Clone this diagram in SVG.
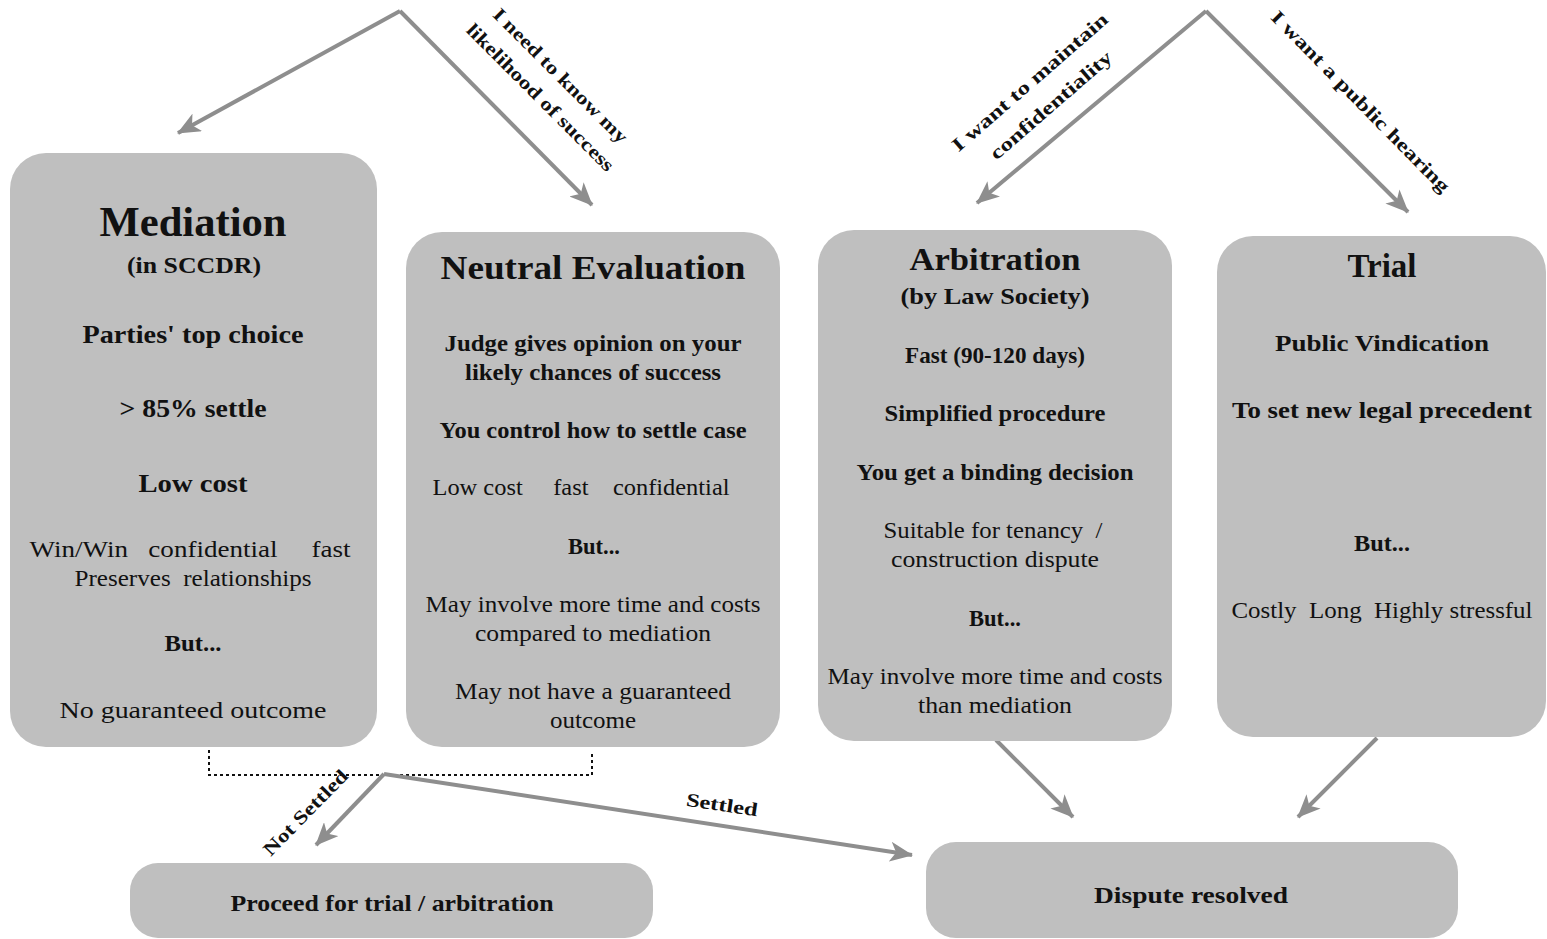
<svg xmlns="http://www.w3.org/2000/svg" width="1547" height="939" viewBox="0 0 1547 939">
<defs>
<style>
.box{fill:#bfbfbf;}
.t{font-family:"Liberation Serif","Times New Roman",serif;fill:#111;text-anchor:middle;white-space:pre;}
.b{font-weight:bold;}
.conn{stroke:#8e8e8e;stroke-width:4;fill:none;}
.lbl{font-family:"Liberation Serif","Times New Roman",serif;font-weight:bold;font-size:19px;fill:#111;text-anchor:middle;}
</style>
<marker id="ah" markerUnits="userSpaceOnUse" markerWidth="24" markerHeight="20" refX="22" refY="10" orient="auto">
<path d="M0,0 L23,10 L0,20 L6,10 z" fill="#8e8e8e"/>
</marker>
</defs>
<rect width="1547" height="939" fill="#ffffff"/>

<g id="connectors">
<path class="conn" d="M400,11 L178,133" marker-end="url(#ah)"/>
<path class="conn" d="M400,11 L592,205" marker-end="url(#ah)"/>
<path class="conn" d="M1206,11 L977,203" marker-end="url(#ah)"/>
<path class="conn" d="M1206,11 L1408,212" marker-end="url(#ah)"/>
<path class="conn" d="M996,740 L1073,817" marker-end="url(#ah)"/>
<path class="conn" d="M1377,738 L1298,817" marker-end="url(#ah)"/>
<path d="M209,750 L209,775 L592,775 L592,752" fill="none" stroke="#111" stroke-width="2" stroke-dasharray="3,3"/>
<path class="conn" d="M384,774 L316,845" marker-end="url(#ah)"/>
<path class="conn" d="M384,774 L912,855" marker-end="url(#ah)"/>
<text class="lbl" transform="translate(556,80) rotate(45)" textLength="182" lengthAdjust="spacingAndGlyphs">I need to know my</text>
<text class="lbl" transform="translate(536,102) rotate(45)" textLength="200" lengthAdjust="spacingAndGlyphs">likelihood of success</text>
<text class="lbl" transform="translate(1034,87) rotate(-41)" textLength="200" lengthAdjust="spacingAndGlyphs">I want to maintain</text>
<text class="lbl" transform="translate(1055,110) rotate(-41)" textLength="155" lengthAdjust="spacingAndGlyphs">confidentiality</text>
<text class="lbl" transform="translate(1356,106) rotate(45.5)" textLength="246" lengthAdjust="spacingAndGlyphs">I want a public hearing</text>
<text class="lbl" transform="translate(310,817) rotate(-45.5)" textLength="112" lengthAdjust="spacingAndGlyphs">Not Settled</text>
<text class="lbl" transform="translate(721,811) rotate(8.5)" textLength="72" lengthAdjust="spacingAndGlyphs">Settled</text>
</g>

<g id="mediation">
<rect class="box" x="10" y="153" width="367" height="594" rx="36"/>
<text class="t b" x="193" y="236" font-size="42" textLength="187" lengthAdjust="spacingAndGlyphs">Mediation</text>
<text class="t b" x="194" y="273" font-size="23" textLength="134" lengthAdjust="spacingAndGlyphs">(in SCCDR)</text>
<text class="t b" x="193" y="343" font-size="25" textLength="221" lengthAdjust="spacingAndGlyphs">Parties' top choice</text>
<text class="t b" x="193" y="417" font-size="25" textLength="147" lengthAdjust="spacingAndGlyphs">&gt; 85% settle</text>
<text class="t b" x="193" y="492" font-size="25" textLength="109" lengthAdjust="spacingAndGlyphs">Low cost</text>
<text class="t" x="190" y="557" font-size="23" textLength="321" lengthAdjust="spacingAndGlyphs">Win/Win   confidential     fast</text>
<text class="t" x="193" y="586" font-size="23" textLength="237" lengthAdjust="spacingAndGlyphs">Preserves  relationships</text>
<text class="t b" x="193" y="651" font-size="23" textLength="57" lengthAdjust="spacingAndGlyphs">But...</text>
<text class="t" x="193" y="718" font-size="24" textLength="267" lengthAdjust="spacingAndGlyphs">No guaranteed outcome</text>
</g>

<g id="neutral-evaluation">
<rect class="box" x="406" y="232" width="374" height="515" rx="36"/>
<text class="t b" x="593" y="279" font-size="34" textLength="305" lengthAdjust="spacingAndGlyphs">Neutral Evaluation</text>
<text class="t b" x="593" y="351" font-size="23" textLength="297" lengthAdjust="spacingAndGlyphs">Judge gives opinion on your</text>
<text class="t b" x="593" y="380" font-size="23" textLength="256" lengthAdjust="spacingAndGlyphs">likely chances of success</text>
<text class="t b" x="593" y="438" font-size="23" textLength="307" lengthAdjust="spacingAndGlyphs">You control how to settle case</text>
<text class="t" x="581" y="495" font-size="23" textLength="297" lengthAdjust="spacingAndGlyphs">Low cost     fast    confidential</text>
<text class="t b" x="594" y="554" font-size="23" textLength="52" lengthAdjust="spacingAndGlyphs">But...</text>
<text class="t" x="593" y="612" font-size="23" textLength="335" lengthAdjust="spacingAndGlyphs">May involve more time and costs</text>
<text class="t" x="593" y="641" font-size="23" textLength="236" lengthAdjust="spacingAndGlyphs">compared to mediation</text>
<text class="t" x="593" y="699" font-size="23" textLength="276" lengthAdjust="spacingAndGlyphs">May not have a guaranteed</text>
<text class="t" x="593" y="728" font-size="23" textLength="86" lengthAdjust="spacingAndGlyphs">outcome</text>
</g>

<g id="arbitration">
<rect class="box" x="818" y="230" width="354" height="511" rx="36"/>
<text class="t b" x="995" y="270" font-size="32" textLength="171" lengthAdjust="spacingAndGlyphs">Arbitration</text>
<text class="t b" x="995" y="304" font-size="23" textLength="189" lengthAdjust="spacingAndGlyphs">(by Law Society)</text>
<text class="t b" x="995" y="363" font-size="23" textLength="180" lengthAdjust="spacingAndGlyphs">Fast (90-120 days)</text>
<text class="t b" x="995" y="421" font-size="23" textLength="221" lengthAdjust="spacingAndGlyphs">Simplified procedure</text>
<text class="t b" x="995" y="480" font-size="23" textLength="277" lengthAdjust="spacingAndGlyphs">You get a binding decision</text>
<text class="t" x="993" y="538" font-size="23" textLength="219" lengthAdjust="spacingAndGlyphs">Suitable for tenancy  /</text>
<text class="t" x="995" y="567" font-size="23" textLength="208" lengthAdjust="spacingAndGlyphs">construction dispute</text>
<text class="t b" x="995" y="626" font-size="23" textLength="52" lengthAdjust="spacingAndGlyphs">But...</text>
<text class="t" x="995" y="684" font-size="23" textLength="335" lengthAdjust="spacingAndGlyphs">May involve more time and costs</text>
<text class="t" x="995" y="713" font-size="23" textLength="154" lengthAdjust="spacingAndGlyphs">than mediation</text>
</g>

<g id="trial">
<rect class="box" x="1217" y="236" width="329" height="501" rx="36"/>
<text class="t b" x="1382" y="277" font-size="34" textLength="69" lengthAdjust="spacingAndGlyphs">Trial</text>
<text class="t b" x="1382" y="351" font-size="23" textLength="214" lengthAdjust="spacingAndGlyphs">Public Vindication</text>
<text class="t b" x="1382" y="418" font-size="23" textLength="300" lengthAdjust="spacingAndGlyphs">To set new legal precedent</text>
<text class="t b" x="1382" y="551" font-size="23" textLength="56" lengthAdjust="spacingAndGlyphs">But...</text>
<text class="t" x="1382" y="618" font-size="23" textLength="301" lengthAdjust="spacingAndGlyphs">Costly  Long  Highly stressful</text>
</g>

<g id="proceed">
<rect class="box" x="130" y="863" width="523" height="75" rx="28"/>
<text class="t b" x="392" y="911" font-size="23" textLength="323" lengthAdjust="spacingAndGlyphs">Proceed for trial / arbitration</text>
</g>

<g id="dispute-resolved">
<rect class="box" x="926" y="842" width="532" height="96" rx="30"/>
<text class="t b" x="1191" y="903" font-size="23" textLength="194" lengthAdjust="spacingAndGlyphs">Dispute resolved</text>
</g>
</svg>
